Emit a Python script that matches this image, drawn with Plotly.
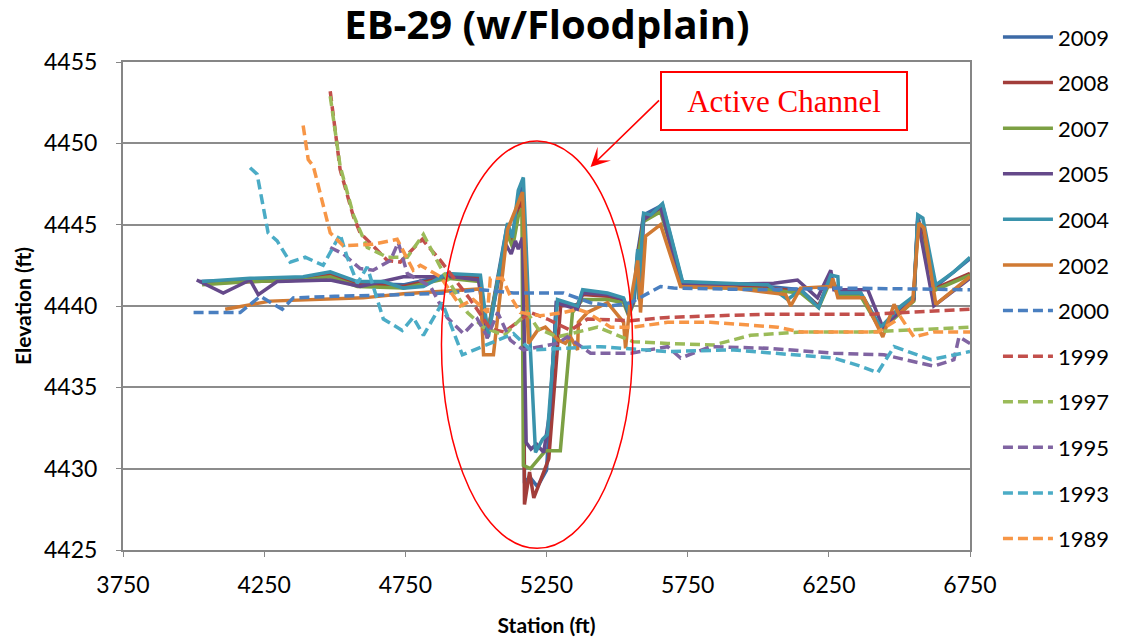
import plotly.graph_objects as go

# ---------------- data ----------------
years = ["2009", "2008", "2007", "2005", "2004", "2002", "2000", "1999", "1997", "1995", "1993", "1989"]

x2009 = [4020, 4200, 4390, 4484, 4580, 4743, 4900, 5012, 5040, 5110, 5130, 5150, 5166, 5172, 5190, 5218, 5250, 5262, 5285, 5360, 5378, 5466, 5523, 5541, 5559, 5573, 5594, 5661, 5732, 6034, 6150, 6214, 6257, 6285, 6363, 6434, 6551, 6565, 6629, 6750]
y2009 = [4441.5, 4441.6, 4441.7, 4442.0, 4441.4, 4441.3, 4441.9, 4441.8, 4438.2, 4444.9, 4444.0, 4446.8, 4447.5, 4429.1, 4429.5, 4428.9, 4429.9, 4433.4, 4440.2, 4440.0, 4440.9, 4440.7, 4440.4, 4439.6, 4440.5, 4443.3, 4445.6, 4446.2, 4441.4, 4441.2, 4441.0, 4440.0, 4441.8, 4440.8, 4440.8, 4438.6, 4440.5, 4445.5, 4441.2, 4442.9]

x2008 = [4030, 4200, 4390, 4484, 4580, 4743, 4900, 5012, 5042, 5110, 5130, 5150, 5165, 5172, 5190, 5205, 5235, 5258, 5282, 5300, 5360, 5378, 5466, 5523, 5541, 5559, 5573, 5594, 5654, 5732, 6034, 6150, 6214, 6257, 6285, 6363, 6434, 6551, 6565, 6629, 6750]
y2008 = [4441.4, 4441.5, 4441.6, 4441.9, 4441.3, 4441.2, 4441.8, 4441.7, 4438.3, 4444.6, 4443.8, 4446.0, 4446.5, 4427.8, 4429.8, 4428.2, 4429.6, 4430.6, 4435.9, 4440.0, 4440.1, 4440.7, 4440.6, 4440.3, 4439.5, 4440.4, 4443.0, 4445.4, 4446.0, 4441.3, 4441.1, 4440.9, 4440.0, 4441.7, 4440.7, 4440.7, 4438.6, 4440.4, 4445.3, 4441.1, 4442.0]

x2007 = [4030, 4200, 4390, 4484, 4580, 4743, 4900, 5012, 5042, 5110, 5130, 5150, 5163, 5168, 5193, 5221, 5246, 5299, 5342, 5378, 5466, 5523, 5541, 5559, 5573, 5594, 5654, 5732, 6034, 6150, 6214, 6257, 6285, 6363, 6434, 6551, 6565, 6629, 6750]
y2007 = [4441.3, 4441.5, 4441.6, 4441.8, 4441.2, 4441.1, 4441.7, 4441.5, 4438.4, 4444.5, 4443.6, 4445.5, 4446.0, 4430.2, 4430.0, 4430.6, 4431.1, 4431.1, 4439.6, 4440.4, 4440.4, 4440.2, 4439.4, 4440.2, 4442.8, 4445.2, 4445.8, 4441.2, 4441.0, 4440.8, 4439.9, 4441.6, 4440.6, 4440.6, 4438.5, 4440.3, 4445.0, 4441.0, 4441.9]

x2005 = [4011, 4105, 4200, 4229, 4296, 4484, 4590, 4743, 4920, 5009, 5040, 5105, 5125, 5140, 5150, 5165, 5178, 5195, 5215, 5240, 5262, 5285, 5360, 5378, 5466, 5523, 5541, 5559, 5573, 5580, 5594, 5654, 5725, 6055, 6139, 6210, 6257, 6268, 6388, 6441, 6551, 6565, 6622, 6750]
y2005 = [4441.6, 4440.8, 4441.6, 4440.7, 4441.5, 4441.6, 4441.2, 4441.8, 4441.8, 4441.6, 4438.0, 4443.8, 4443.2, 4444.0, 4443.5, 4444.2, 4431.6, 4431.2, 4431.5, 4431.0, 4433.5, 4440.2, 4439.8, 4440.8, 4440.7, 4440.4, 4439.5, 4440.3, 4443.0, 4440.3, 4445.3, 4446.1, 4441.3, 4441.4, 4441.6, 4440.5, 4442.2, 4441.0, 4441.0, 4438.7, 4440.4, 4445.3, 4440.0, 4441.7]

x2004 = [4030, 4200, 4388, 4484, 4580, 4672, 4743, 4814, 4899, 5016, 5044, 5112, 5129, 5150, 5168, 5193, 5211, 5236, 5253, 5289, 5360, 5378, 5466, 5523, 5541, 5559, 5573, 5576, 5594, 5619, 5661, 5732, 6034, 6104, 6150, 6214, 6257, 6282, 6285, 6363, 6434, 6505, 6551, 6565, 6583, 6629, 6693, 6750]
y2004 = [4441.5, 4441.7, 4441.8, 4442.1, 4441.5, 4441.5, 4441.1, 4441.2, 4442.0, 4441.9, 4438.1, 4445.1, 4444.2, 4447.1, 4447.9, 4437.3, 4431.0, 4431.8, 4432.1, 4440.4, 4440.0, 4441.0, 4440.8, 4440.5, 4439.6, 4440.6, 4443.5, 4440.4, 4445.7, 4445.6, 4446.3, 4441.5, 4441.3, 4440.4, 4441.0, 4439.9, 4441.9, 4441.8, 4440.8, 4440.8, 4438.7, 4440.0, 4440.6, 4445.6, 4445.4, 4441.3, 4442.1, 4443.0]

x2002 = [4112, 4271, 4601, 4743, 5016, 5027, 5062, 5112, 5165, 5186, 5218, 5246, 5292, 5317, 5335, 5360, 5363, 5395, 5466, 5502, 5523, 5530, 5545, 5573, 5583, 5601, 5654, 5725, 5913, 6097, 6115, 6150, 6257, 6264, 6282, 6374, 6441, 6481, 6498, 6547, 6569, 6587, 6629, 6750]
y2002 = [4439.8, 4440.3, 4440.5, 4440.75, 4441.05, 4437.0, 4437.0, 4444.7, 4447.0, 4437.7, 4438.5, 4438.7, 4437.9, 4437.7, 4438.1, 4437.3, 4439.0, 4439.6, 4440.2, 4439.4, 4439.0, 4437.4, 4440.0, 4442.8, 4439.6, 4444.3, 4445.0, 4441.2, 4441.1, 4440.7, 4440.0, 4441.1, 4441.2, 4441.7, 4440.5, 4440.5, 4438.1, 4440.1, 4439.5, 4440.3, 4445.1, 4444.8, 4440.1, 4441.8]

x2000 = [4000, 4165, 4236, 4314, 4353, 4500, 4743, 4900, 5016, 5133, 5310, 5406, 5477, 5548, 5654, 5700, 6000, 6300, 6750]
y2000 = [4439.6, 4439.6, 4440.6, 4439.8, 4440.5, 4440.6, 4440.7, 4440.8, 4441.0, 4440.8, 4440.8, 4440.2, 4440.0, 4440.2, 4441.2, 4441.1, 4441.0, 4441.1, 4441.0]

x1999 = [4484, 4519, 4566, 4590, 4686, 4732, 4810, 4874, 4980, 5051, 5100, 5193, 5253, 5335, 5395, 5548, 5679, 6034, 6400, 6750]
y1999 = [4453.2, 4448.4, 4445.5, 4444.5, 4442.8, 4442.7, 4444.1, 4442.8, 4440.4, 4438.6, 4438.4, 4439.6, 4439.2, 4438.5, 4439.2, 4439.1, 4439.3, 4439.5, 4439.5, 4439.8]

x1997 = [4484, 4519, 4566, 4615, 4686, 4757, 4814, 4874, 4970, 5027, 5100, 5182, 5220, 5289, 5431, 5558, 5679, 5842, 5973, 6150, 6388, 6750]
y1997 = [4452.9, 4448.6, 4445.6, 4443.6, 4443.0, 4443.0, 4444.4, 4442.4, 4439.6, 4438.7, 4438.2, 4439.6, 4438.6, 4438.1, 4438.7, 4437.8, 4437.7, 4437.6, 4438.2, 4438.4, 4438.4, 4438.7]

x1995 = [4484, 4530, 4590, 4636, 4697, 4725, 4757, 4839, 4898, 4956, 5005, 5041, 5077, 5122, 5168, 5289, 5324, 5406, 5548, 5679, 5725, 5831, 6034, 6268, 6445, 6622, 6693, 6711, 6750]
y1995 = [4443.6, 4443.2, 4442.3, 4442.2, 4442.8, 4443.9, 4442.0, 4441.2, 4439.3, 4438.3, 4439.2, 4438.1, 4439.6, 4437.9, 4437.3, 4437.7, 4438.1, 4437.1, 4437.1, 4437.5, 4436.8, 4437.5, 4437.4, 4437.1, 4437.0, 4436.3, 4436.7, 4438.1, 4437.7]

x1993 = [4200, 4225, 4264, 4296, 4342, 4395, 4459, 4519, 4544, 4580, 4615, 4672, 4739, 4778, 4814, 4881, 4952, 5077, 5133, 5193, 5441, 5679, 5913, 6268, 6363, 6423, 6481, 6612, 6750]
y1993 = [4448.5, 4448.1, 4444.5, 4444.0, 4442.7, 4443.0, 4442.5, 4444.4, 4443.0, 4441.4, 4442.4, 4439.2, 4438.5, 4439.3, 4438.2, 4440.2, 4437.0, 4437.9, 4438.3, 4437.3, 4437.5, 4437.2, 4437.3, 4436.8, 4436.3, 4435.9, 4437.5, 4436.7, 4437.2]

x1989 = [4388, 4406, 4424, 4484, 4530, 4636, 4721, 4778, 4803, 4874, 4945, 4991, 5041, 5051, 5094, 5122, 5157, 5228, 5310, 5360, 5395, 5477, 5558, 5679, 5831, 6069, 6150, 6268, 6423, 6505, 6551, 6622, 6750]
y1989 = [4451.1, 4449.0, 4448.6, 4444.5, 4443.7, 4443.8, 4444.1, 4442.2, 4442.5, 4441.8, 4440.0, 4440.4, 4439.6, 4441.7, 4441.7, 4440.6, 4439.6, 4439.4, 4439.6, 4439.8, 4439.6, 4438.7, 4438.7, 4439.0, 4439.0, 4438.7, 4438.4, 4438.4, 4438.4, 4439.3, 4438.1, 4438.4, 4438.4]

xs = [x2009, x2008, x2007, x2005, x2004, x2002, x2000, x1999, x1997, x1995, x1993, x1989]
ys = [y2009, y2008, y2007, y2005, y2004, y2002, y2000, y1999, y1997, y1995, y1993, y1989]

x_ticks = [3750, 4250, 4750, 5250, 5750, 6250, 6750]
y_ticks = [4425, 4430, 4435, 4440, 4445, 4450, 4455]

# ellipse (active channel) extent in data units
ell_x = [4878, 5555]
ell_y = [4425.1, 4450.15]

# ---------------- styles ----------------
colors = ["#3C6AA6", "#A23D3A", "#7CA043", "#65498A", "#3A93AC", "#D07A33",
          "#4A7FC0", "#C24F4B", "#9BBB59", "#8064A2", "#4BACC6", "#F79646"]
dashes = ["solid"] * 6 + ["10px,5px"] * 6

fig = go.Figure()
for name, x, y, c, d in zip(years, xs, ys, colors, dashes):
    fig.add_trace(go.Scatter(
        x=x, y=y, mode="lines", name=name, legendgroup=name,
        line=dict(color=c, width=3.5, dash=d),
    ))

fig.add_shape(type="circle", xref="x", yref="y",
              x0=ell_x[0], x1=ell_x[1], y0=ell_y[0], y1=ell_y[1],
              line=dict(color="#FF0000", width=1.5))

# label box
fig.add_annotation(x=6090, y=4452.6, xref="x", yref="y", text="Active Channel",
                   showarrow=False, font=dict(family="Liberation Serif", size=31, color="#FF0000"),
                   bordercolor="#FF0000", borderwidth=2, borderpad=0,
                   width=244, height=56, bgcolor="white")
# arrow
fig.add_annotation(x=5406, y=4448.55, xref="x", yref="y", text="",
                   showarrow=True, ax=70, ay=-68, axref="pixel", ayref="pixel",
                   arrowhead=3, arrowsize=2.0, arrowwidth=1.6, arrowcolor="#FF0000")

fig.update_layout(
    width=1115, height=635,
    margin=dict(l=115, r=153, t=54, b=93, autoexpand=False),
    paper_bgcolor="white", plot_bgcolor="white",
    font=dict(family="Lato", color="black"),
    title=dict(text="<b>EB-29 (w/Floodplain)</b>", x=0.4834, xanchor="center",
               y=0.973, yanchor="middle", font=dict(size=40, family="Open Sans")),
    legend=dict(x=1.033, xanchor="left", y=1.094, yanchor="top",
                font=dict(size=22, family="Lato"), traceorder="grouped",
                tracegroupgap=14.0, itemwidth=50, maxheight=640,
                bgcolor="rgba(0,0,0,0)"),
    showlegend=True,
)
fig.update_xaxes(range=[3750, 6750], tickvals=x_ticks, ticktext=[str(v) for v in x_ticks],
                 showgrid=False, zeroline=False, showline=True, linecolor="#868686",
                 linewidth=2, mirror=True, ticks="outside", ticklen=5, tickcolor="#868686",
                 ticklabelstandoff=8, tickfont=dict(size=23),
                 title=dict(text="<b>Station (ft)</b>", font=dict(size=21), standoff=22))
fig.update_yaxes(range=[4425, 4455], tickvals=y_ticks, ticktext=[str(v) for v in y_ticks],
                 showgrid=True, gridcolor="#8C8C8C", gridwidth=2, zeroline=False,
                 showline=True, linecolor="#868686", linewidth=2, mirror=True,
                 ticks="outside", ticklen=5, tickcolor="#868686",
                 ticklabelstandoff=14, tickfont=dict(size=23),
                 title=dict(text="<b>Elevation (ft)</b>", font=dict(size=21), standoff=7))

fig.write_html("out.html")
